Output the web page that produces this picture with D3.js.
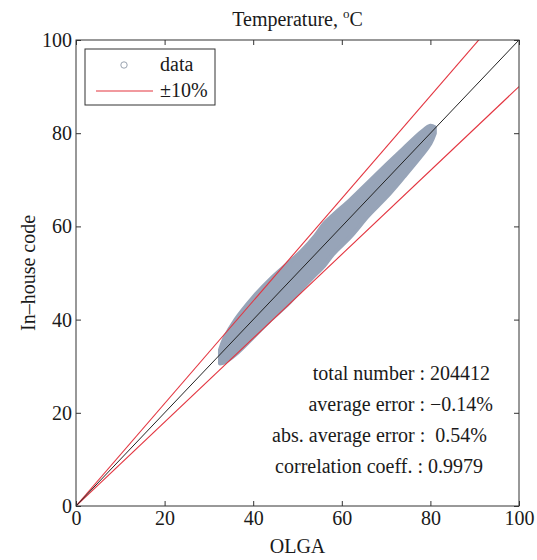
<!DOCTYPE html>
<html>
<head>
<meta charset="utf-8">
<script src="https://cdn.jsdelivr.net/npm/d3@7"></script>
<style>
  body { margin: 0; background: #fff; }
  svg text { font-family: "Liberation Serif", "Times New Roman", serif !important; fill: #1a1a1a; white-space: pre; }
</style>
</head>
<body>
<svg id="chart" width="537" height="560"></svg>
<script>
// envelope of the scatter cloud (OLGA vs in-house, deg C)
var olgaX        = [32.5, 33.5, 36, 40, 44, 48, 51, 54, 56, 58, 62, 66, 70, 74, 78, 80, 81];
var inhouseUpper = [33.5, 36, 40, 44.8, 48.8, 52.2, 54.8, 58, 60.6, 62.4, 65.8, 69.5, 73.2, 76.8, 80.3, 81.6, 81.3];
var inhouseLower = [30.6, 30.8, 32.5, 36.2, 40, 43.5, 46.6, 49.6, 51.5, 54, 57.8, 62.3, 66.2, 70.6, 75.2, 77.8, 80];

var axisTicks = [0, 20, 40, 60, 80, 100];
var errorBand = [0.9, 1.1];   // +-10% lines
var legendLabels = ["data", "\u00b110%"];
var statLines = [
  "total number : 204412",
  "average error : \u22120.14%",
  "abs. average error :  0.54%",
  "correlation coeff. : 0.9979"
];

(function () {
  var svg = d3.select("#chart");
  var left = 76, right = 519, top = 40, bottom = 506;
  var fs = 20;

  var x = d3.scaleLinear().domain([0, 100]).range([left, right]);
  var y = d3.scaleLinear().domain([0, 100]).range([bottom, top]);

  svg.append("defs").append("clipPath").attr("id", "plot-clip")
    .append("rect")
    .attr("x", left).attr("y", top)
    .attr("width", right - left).attr("height", bottom - top);

  var plot = svg.append("g").attr("clip-path", "url(#plot-clip)");

  // scatter cloud drawn as its envelope
  var cloud = olgaX.map(function (v, i) {
    return { x: v, lo: inhouseLower[i], hi: inhouseUpper[i] };
  });
  var area = d3.area()
    .curve(d3.curveCatmullRom)
    .x(function (d) { return x(d.x); })
    .y0(function (d) { return y(d.lo); })
    .y1(function (d) { return y(d.hi); });
  plot.append("path")
    .datum(cloud)
    .attr("d", area)
    .attr("fill", "#97a4b8")
    .attr("stroke", "#97a4b8")
    .attr("stroke-width", 4)
    .attr("stroke-linejoin", "round");

  // +-10% lines
  var line = d3.line().x(function (d) { return x(d[0]); }).y(function (d) { return y(d[1]); });
  errorBand.forEach(function (f) {
    plot.append("path")
      .attr("d", line([[0, 0], [100, 100 * f]]))
      .attr("fill", "none")
      .attr("stroke", "#e3343f")
      .attr("stroke-width", 1.1);
  });

  // 1:1 line
  plot.append("path")
    .attr("d", line([[0, 0], [100, 100]]))
    .attr("fill", "none")
    .attr("stroke", "#222")
    .attr("stroke-width", 1);

  // axes, ticks pointing inward like MATLAB
  function styleAxis(g) {
    g.select(".domain").remove();
    g.selectAll(".tick line").attr("stroke", "#333");
    g.selectAll("text").attr("font-size", fs);
  }
  svg.append("g").attr("transform", "translate(0," + bottom + ")")
    .call(d3.axisBottom(x).tickValues(axisTicks).tickSize(-5).tickPadding(5))
    .call(styleAxis);
  svg.append("g").attr("transform", "translate(0," + top + ")")
    .call(d3.axisTop(x).tickValues(axisTicks).tickSize(-5).tickFormat(""))
    .call(styleAxis);
  svg.append("g").attr("transform", "translate(" + left + ",0)")
    .call(d3.axisLeft(y).tickValues(axisTicks).tickSize(-5).tickPadding(4))
    .call(styleAxis);
  svg.append("g").attr("transform", "translate(" + right + ",0)")
    .call(d3.axisRight(y).tickValues(axisTicks).tickSize(-5).tickFormat(""))
    .call(styleAxis);

  svg.append("rect")
    .attr("x", left).attr("y", top)
    .attr("width", right - left).attr("height", bottom - top)
    .attr("fill", "none").attr("stroke", "#333").attr("stroke-width", 1);

  // title
  var title = svg.append("text")
    .attr("x", (left + right) / 2).attr("y", 26)
    .attr("text-anchor", "middle")
    .attr("font-size", fs);
  title.append("tspan").text("Temperature, ");
  title.append("tspan").attr("dy", -8).attr("font-size", 13).text("o");
  title.append("tspan").attr("dy", 8).text("C");

  // axis labels
  svg.append("text")
    .attr("x", (left + right) / 2).attr("y", 553)
    .attr("text-anchor", "middle")
    .attr("font-size", fs)
    .text("OLGA");
  svg.append("text")
    .attr("transform", "translate(35," + (top + bottom) / 2 + ") rotate(-90)")
    .attr("text-anchor", "middle")
    .attr("font-size", fs)
    .text("In\u2013house code");

  // legend
  var legend = svg.append("g");
  legend.append("rect")
    .attr("x", 85).attr("y", 49).attr("width", 130).attr("height", 56)
    .attr("fill", "#fff").attr("stroke", "#333").attr("stroke-width", 1);
  legend.append("circle")
    .attr("cx", 124).attr("cy", 65).attr("r", 3.2)
    .attr("fill", "none").attr("stroke", "#9aa3b0").attr("stroke-width", 1);
  legend.append("line")
    .attr("x1", 96).attr("x2", 153).attr("y1", 91).attr("y2", 91)
    .attr("stroke", "#e3343f").attr("stroke-width", 1.1);
  legend.selectAll("text.lab")
    .data(legendLabels)
    .enter().append("text")
    .attr("class", "lab")
    .attr("x", 160)
    .attr("y", function (d, i) { return 71 + i * 26; })
    .attr("font-size", fs)
    .text(function (d) { return d; });

  // stats block
  var statRight = [490, 493, 487, 483];
  svg.selectAll("text.stat")
    .data(statLines)
    .enter().append("text")
    .attr("class", "stat")
    .attr("x", function (d, i) { return statRight[i]; })
    .attr("y", function (d, i) { return 380 + i * 31; })
    .attr("text-anchor", "end")
    .attr("font-size", fs)
    .text(function (d) { return d; });
})();
</script>
</body>
</html>
